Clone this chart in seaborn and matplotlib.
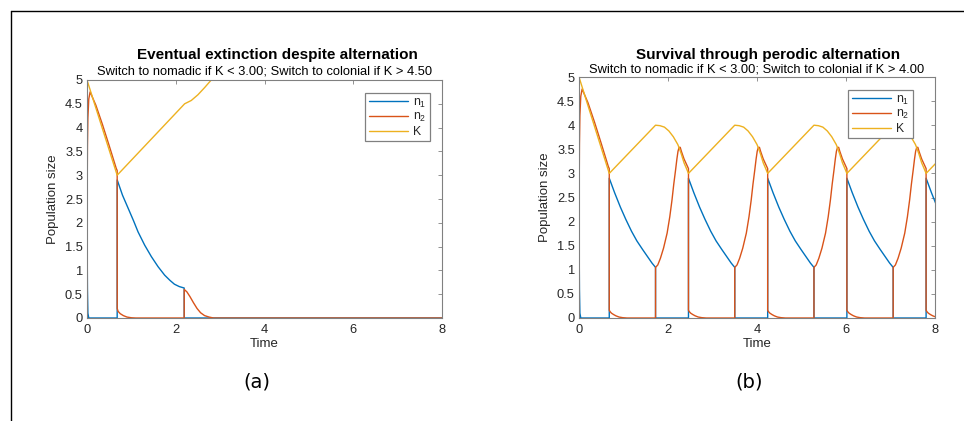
import pandas as pd
import matplotlib
matplotlib.use('Agg')
import matplotlib.pyplot as plt
from matplotlib.lines import Line2D
import seaborn as sns

W, H = 964, 421
BLUE, ORANGE, YELLOW = '#0072BD', '#D95319', '#EDB120'
LABELS = ['n$_1$', 'n$_2$', 'K']

# ---- panel (a): eventual extinction ----
a_n1_t = [0, 0.01, 0.02, 0.04, 0.68, 0.681, 0.80, 0.93, 1.05, 1.15, 1.30, 1.45,
          1.60, 1.75, 1.87, 1.97, 2.08, 2.19, 2.191, 8.0]
a_n1_v = [2.0, 0.6, 0.1, 0.0, 0.0, 2.90, 2.58, 2.30, 2.04, 1.81, 1.53, 1.29,
          1.08, 0.90, 0.79, 0.71, 0.66, 0.63, 0.0, 0.0]
a_n2_t = [0, 0.01, 0.02, 0.04, 0.07, 0.2, 0.35, 0.5, 0.66, 0.68, 0.681, 0.70,
          0.75, 0.82, 0.9, 1.0, 1.1, 2.19, 2.191, 2.25, 2.32, 2.4, 2.48, 2.56,
          2.65, 2.75, 2.85, 8.0]
a_n2_v = [2.0, 3.6, 4.2, 4.6, 4.75, 4.47, 4.06, 3.62, 3.14, 3.1, 0.2, 0.14,
          0.09, 0.05, 0.02, 0.005, 0.0, 0.0, 0.6, 0.55, 0.45, 0.32, 0.2, 0.11,
          0.05, 0.02, 0.0, 0.0]
a_K_t = [0, 0.68, 2.2, 2.35, 2.5, 2.65, 2.8, 3.0]
a_K_v = [5.0, 3.0, 4.5, 4.57, 4.69, 4.84, 5.0, 5.2]

# ---- panel (b): periodic alternation ----
# opening stretch (same as (a))
b_start_n1_t = [0, 0.01, 0.02, 0.04]
b_start_n1_v = [2.0, 0.6, 0.1, 0.0]
b_start_n2_t = [0, 0.01, 0.02, 0.04, 0.07, 0.2, 0.35, 0.5, 0.66, 0.68]
b_start_n2_v = [2.0, 3.6, 4.2, 4.6, 4.75, 4.47, 4.06, 3.62, 3.14, 3.1]
b_start_K_t = [0, 0.68]
b_start_K_v = [5.0, 3.0]

# switch times
nomadic_start = [0.68, 2.46, 4.24, 6.02, 7.80]
colonial_start = [1.72, 3.50, 5.28, 7.06]

# one nomadic phase, time measured from the switch
nom_dt_n1 = [0, 0.12, 0.25, 0.37, 0.5, 0.62, 0.75, 0.87, 0.96, 1.04]
nom_n1 = [2.9, 2.6, 2.3, 2.05, 1.8, 1.6, 1.42, 1.26, 1.14, 1.05]
nom_dt_n2 = [0, 0.02, 0.05, 0.1, 0.15, 0.22, 0.3, 0.4]
nom_n2 = [0.16, 0.13, 0.1, 0.07, 0.045, 0.02, 0.007, 0.0]
nom_dt_K = [0, 1.04]
nom_K = [3.0, 4.0]

# one colonial phase, time measured from the switch
col_dt_n2 = [0, 0.05, 0.11, 0.18, 0.26, 0.32, 0.37, 0.41, 0.45, 0.48, 0.505,
             0.53, 0.555, 0.58, 0.64, 0.70, 0.74]
col_n2 = [1.05, 1.10, 1.24, 1.45, 1.76, 2.10, 2.45, 2.78, 3.07, 3.30, 3.46,
          3.54, 3.54, 3.46, 3.30, 3.18, 3.10]
col_dt_K = [0, 0.1, 0.2, 0.3, 0.4, 0.5, 0.53, 0.58, 0.64, 0.70, 0.74]
col_K = [4.0, 3.99, 3.96, 3.88, 3.76, 3.6, 3.53, 3.40, 3.22, 3.09, 3.0]


def shift(t0, dts):
    return [t0 + d for d in dts]


b_n1_t, b_n1_v = list(b_start_n1_t), list(b_start_n1_v)
b_n2_t, b_n2_v = list(b_start_n2_t), list(b_start_n2_v)
b_K_t, b_K_v = list(b_start_K_t), list(b_start_K_v)
for k, s in enumerate(nomadic_start):
    b_n1_t += [s] + shift(s, nom_dt_n1)
    b_n1_v += [0.0] + nom_n1
    b_n2_t += shift(s, nom_dt_n2)
    b_n2_v += nom_n2
    b_K_t += shift(s, nom_dt_K)
    b_K_v += nom_K
    if k < len(colonial_start):
        c = colonial_start[k]
        b_n1_t += [c, nomadic_start[k + 1]]
        b_n1_v += [0.0, 0.0]
        b_n2_t += [c] + shift(c, col_dt_n2)
        b_n2_v += [0.0] + col_n2
        b_K_t += shift(c, col_dt_K)
        b_K_v += col_K


def long_df(n1, n2, K):
    parts = []
    for lab, (t, v) in zip(LABELS, [n1, n2, K]):
        parts.append(pd.DataFrame({'t': t, 'v': v, 'series': lab}))
    return pd.concat(parts, ignore_index=True)


df_a = long_df((a_n1_t, a_n1_v), (a_n2_t, a_n2_v), (a_K_t, a_K_v))
df_b = long_df((b_n1_t, b_n1_v), (b_n2_t, b_n2_v), (b_K_t, b_K_v))

sns.set_style('white')
plt.rcParams['font.family'] = ['Liberation Sans', 'DejaVu Sans']
plt.rcParams['mathtext.fontset'] = 'custom'
plt.rcParams['mathtext.rm'] = 'Liberation Sans'
plt.rcParams['mathtext.it'] = 'Liberation Sans'

fig = plt.figure(figsize=(W / 100, H / 100), dpi=100)


def fx(x):
    return x / W


def fy(y):
    return 1 - y / H


panels = [
    dict(df=df_a, box=(87, 80, 442, 318), leg=(430, 93),
         title='Eventual extinction despite alternation', title_x=277, title_y=59.5,
         sub='Switch to nomadic if K < 3.00; Switch to colonial if K > 4.50', sub_y=75,
         tag='(a)'),
    dict(df=df_b, box=(579, 77, 935, 318), leg=(913, 90),
         title='Survival through perodic alternation', title_x=768, title_y=58.5,
         sub='Switch to nomadic if K < 3.00; Switch to colonial if K > 4.00', sub_y=72.5,
         tag='(b)'),
]

GRAY = '#808080'
TXT = '#262626'
for p in panels:
    x0, y0, x1, y1 = p['box']
    ax = fig.add_axes([fx(x0), fy(y1), (x1 - x0) / W, (y1 - y0) / H])
    sns.lineplot(data=p['df'], x='t', y='v', hue='series', hue_order=LABELS,
                 palette=[BLUE, ORANGE, YELLOW], sort=False, estimator=None,
                 linewidth=1.0, ax=ax)
    ax.set_xlim(0, 8)
    ax.set_ylim(0, 5)
    ax.set_xticks([0, 2, 4, 6, 8])
    ax.set_yticks([0, 0.5, 1, 1.5, 2, 2.5, 3, 3.5, 4, 4.5, 5])
    ax.set_yticklabels(['0', '0.5', '1', '1.5', '2', '2.5', '3', '3.5', '4', '4.5', '5'])
    ax.tick_params(direction='in', top=True, right=True, length=3, width=0.6,
                   color=GRAY, labelcolor=TXT, labelsize=9.3)
    ax.tick_params(axis='y', pad=3)
    ax.tick_params(axis='x', pad=4.5)
    for sp in ax.spines.values():
        sp.set_color(GRAY)
        sp.set_linewidth(0.8)
    ax.set_xlabel('')
    ax.set_ylabel('')
    cx = (x0 + x1) / 2
    fig.text(fx(cx), fy(344), 'Time', ha='center', va='center', fontsize=9.5, color=TXT)
    fig.text(fx(x0 - 34), fy((y0 + y1) / 2), 'Population size', ha='center', va='center',
             rotation=90, fontsize=9.5, color=TXT)
    fig.text(fx(p['title_x']), fy(p['title_y']), p['title'], ha='center', va='baseline',
             fontsize=11, fontweight='bold', color='black')
    fig.text(fx(cx), fy(p['sub_y']), p['sub'], ha='center', va='baseline',
             fontsize=9.3, color='black')
    fig.text(fx(cx - 8), fy(382), p['tag'], ha='center', va='center', fontsize=14,
             family='DejaVu Sans', color='black')
    lx, ly = p['leg']
    handles, labels = ax.get_legend_handles_labels()
    ax.legend(handles, labels, loc='upper right',
              bbox_to_anchor=((lx - x0) / (x1 - x0), 1 - (ly - y0) / (y1 - y0)),
              frameon=True, fancybox=False, edgecolor=GRAY, fontsize=8.8,
              handlelength=3.2, handletextpad=0.4, borderpad=0.3,
              labelspacing=0.12, borderaxespad=0, framealpha=1)
    ax.get_legend().get_frame().set_linewidth(0.9)

# outer frame lines (top and left)
fig.add_artist(Line2D([fx(11), 1], [fy(11), fy(11)], color='black', lw=1.0))
fig.add_artist(Line2D([fx(11), fx(11)], [fy(11), 0], color='black', lw=1.0))

fig.savefig('out.png', dpi=100)
